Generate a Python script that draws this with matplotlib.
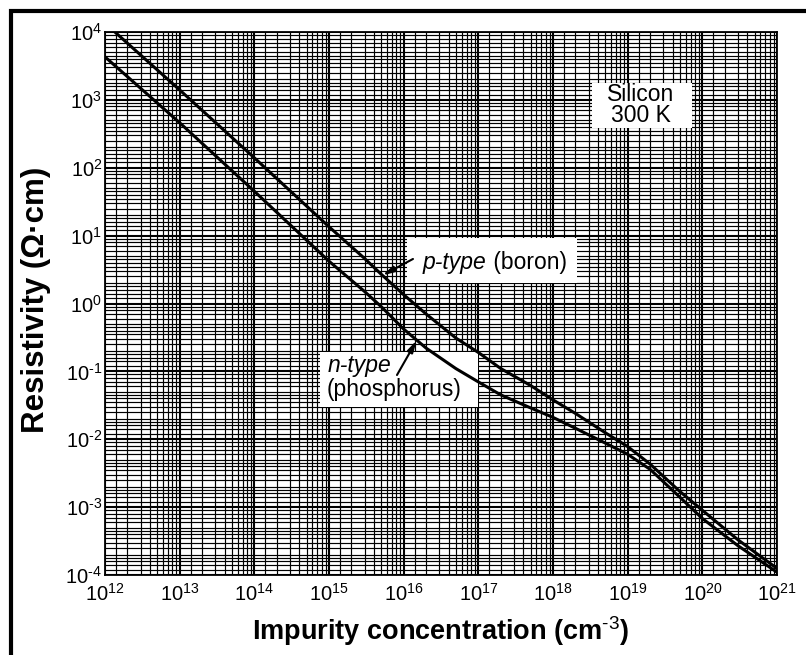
import matplotlib
matplotlib.use("Agg")
import matplotlib.pyplot as plt
import numpy as np
from matplotlib.patches import Rectangle
from matplotlib.ticker import LogLocator, NullFormatter

plt.rcParams["font.family"] = ["Liberation Sans", "DejaVu Sans"]
plt.rcParams["mathtext.fontset"] = "custom"
plt.rcParams["mathtext.rm"] = "Liberation Sans"
plt.rcParams["mathtext.bf"] = "Liberation Sans:bold"

# values (Si at 300 K)
conc = [1e12, 1e13, 1e14, 1e15, 3e15, 5e15, 1e16, 2e16, 5e16, 1e17,
        2e17, 5e17, 1e18, 2e18, 5e18, 1e19, 2e19, 5e19, 1e20, 3e20, 1e21]
rho_p = [1.35e4, 1.4e3, 140, 13.5, 4.6, 2.7, 1.35, 0.7, 0.31, 0.19,
         0.11, 0.062, 0.038, 0.024, 0.0125, 0.0078, 0.0043, 0.0017,
         9e-4, 3.3e-4, 1.25e-4]
rho_n = [4.3e3, 460, 45, 4.2, 1.5, 0.9, 0.42, 0.22, 0.11, 0.07,
         0.045, 0.029, 0.021, 0.0145, 0.0088, 0.006, 0.0036, 0.0014,
         6.8e-4, 2.7e-4, 1.1e-4]

x_decades = list(range(12, 22))
y_decades = list(range(-4, 5))
x_subs = [1.4, 2, 3, 4, 5, 6, 7, 8, 9]
y_subs = [1.2, 1.4, 1.6, 1.8, 2, 2.5, 3, 3.5, 4, 4.5, 5, 6, 7, 8, 9]

# where the label arrows touch the curves
p_arrow_conc = 5.2e15
n_arrow_conc = 1.5e16


def on_curve(x, xs, ys):
    return 10 ** np.interp(np.log10(x), np.log10(xs), np.log10(ys))


def power_label(d):
    # short hyphen in the exponent, like the scanned figure
    if d < 0:
        return f"$\\mathregular{{10^{{\\text{{-}}{-d}}}}}$"
    return f"$\\mathregular{{10^{{{d}}}}}$"


def main() -> None:
    fig = plt.figure(figsize=(8.06, 6.55), dpi=100)
    ax = fig.add_axes([105 / 806, 1 - 575 / 655, 672 / 806, 543 / 655])
    ax.set_xscale("log")
    ax.set_yscale("log")
    ax.set_xlim(1e12, 1e21)
    ax.set_ylim(1e-4, 1e4)

    # log paper grid
    ax.set_xticks([10.0 ** d for d in x_decades],
                  labels=[power_label(d) for d in x_decades])
    ax.set_yticks([10.0 ** d for d in y_decades],
                  labels=[power_label(d) for d in y_decades])
    ax.xaxis.set_minor_locator(LogLocator(base=10, subs=x_subs, numticks=100))
    ax.yaxis.set_minor_locator(LogLocator(base=10, subs=y_subs, numticks=100))
    ax.xaxis.set_minor_formatter(NullFormatter())
    ax.yaxis.set_minor_formatter(NullFormatter())
    ax.grid(which="major", color="black", lw=1.5, zorder=0)
    ax.grid(which="minor", color="black", lw=0.85, zorder=0)
    ax.set_axisbelow(True)
    ax.tick_params(which="both", length=0, labelsize=14.5)
    ax.tick_params(axis="x", pad=6)
    ax.tick_params(axis="y", pad=2)
    for sp in ax.spines.values():
        sp.set_linewidth(1.3)
        sp.set_color("black")

    ax.plot(conc, rho_p, color="black", lw=2.2, zorder=5)
    ax.plot(conc, rho_n, color="black", lw=2.2, zorder=5)

    # white label boxes
    for x0, y0, w, h in [(0.7247, 0.8232, 0.1488, 0.0829),
                         (0.4494, 0.5378, 0.2530, 0.0829),
                         (0.3199, 0.3094, 0.2351, 0.1013)]:
        ax.add_patch(Rectangle((x0, y0), w, h, transform=ax.transAxes,
                               facecolor="white", edgecolor="none", zorder=3))

    ax.text(0.7976, 0.8656, "Silicon\n300 K", transform=ax.transAxes,
            ha="center", va="center", fontsize=16.5, linespacing=0.92, zorder=4)

    t_p = ax.text(0.4732, 0.5764, "p-type", transform=ax.transAxes,
                  ha="left", va="center", fontsize=16.5, style="italic", zorder=4)
    ax.annotate(" (boron)", xy=(1, 0.5), xycoords=t_p, ha="left", va="center",
                fontsize=16.5, zorder=4)
    ax.text(0.3318, 0.3867, "n-type", transform=ax.transAxes,
            ha="left", va="center", fontsize=16.5, style="italic", zorder=4)
    ax.text(0.3304, 0.3407, "(phosphorus)", transform=ax.transAxes,
            ha="left", va="center", fontsize=16.5, zorder=4)

    arrow = dict(arrowstyle="-|>,head_length=0.7,head_width=0.18",
                 color="black", lw=1.5, shrinkA=0, shrinkB=0)
    ax.annotate("", xy=(p_arrow_conc, on_curve(p_arrow_conc, conc, rho_p)),
                xycoords="data", xytext=(0.4583, 0.5820),
                textcoords="axes fraction", arrowprops=arrow, zorder=6)
    ax.annotate("", xy=(n_arrow_conc, on_curve(n_arrow_conc, conc, rho_n)),
                xycoords="data", xytext=(0.4345, 0.3683),
                textcoords="axes fraction", arrowprops=arrow, zorder=6)

    fig.text(441 / 806, 1 - 631 / 655,
             "Impurity concentration (cm$^{\\text{-}3}$)",
             ha="center", va="center", fontsize=19.5, fontweight="bold")
    fig.text(36 / 806, 1 - 300 / 655, "Resistivity (\u03a9\u00b7cm)",
             rotation=90, ha="center", va="center", fontsize=22.5,
             fontweight="bold")

    # thick outer frame, runs off the right and bottom edges
    fig.patches.append(Rectangle((10.5 / 806, -0.1), 1.2, 0.1 + 1 - 11.5 / 655,
                                 transform=fig.transFigure, fill=False,
                                 edgecolor="black", lw=3.0))

    fig.savefig("out.png", dpi=100)


if __name__ == "__main__":
    main()
